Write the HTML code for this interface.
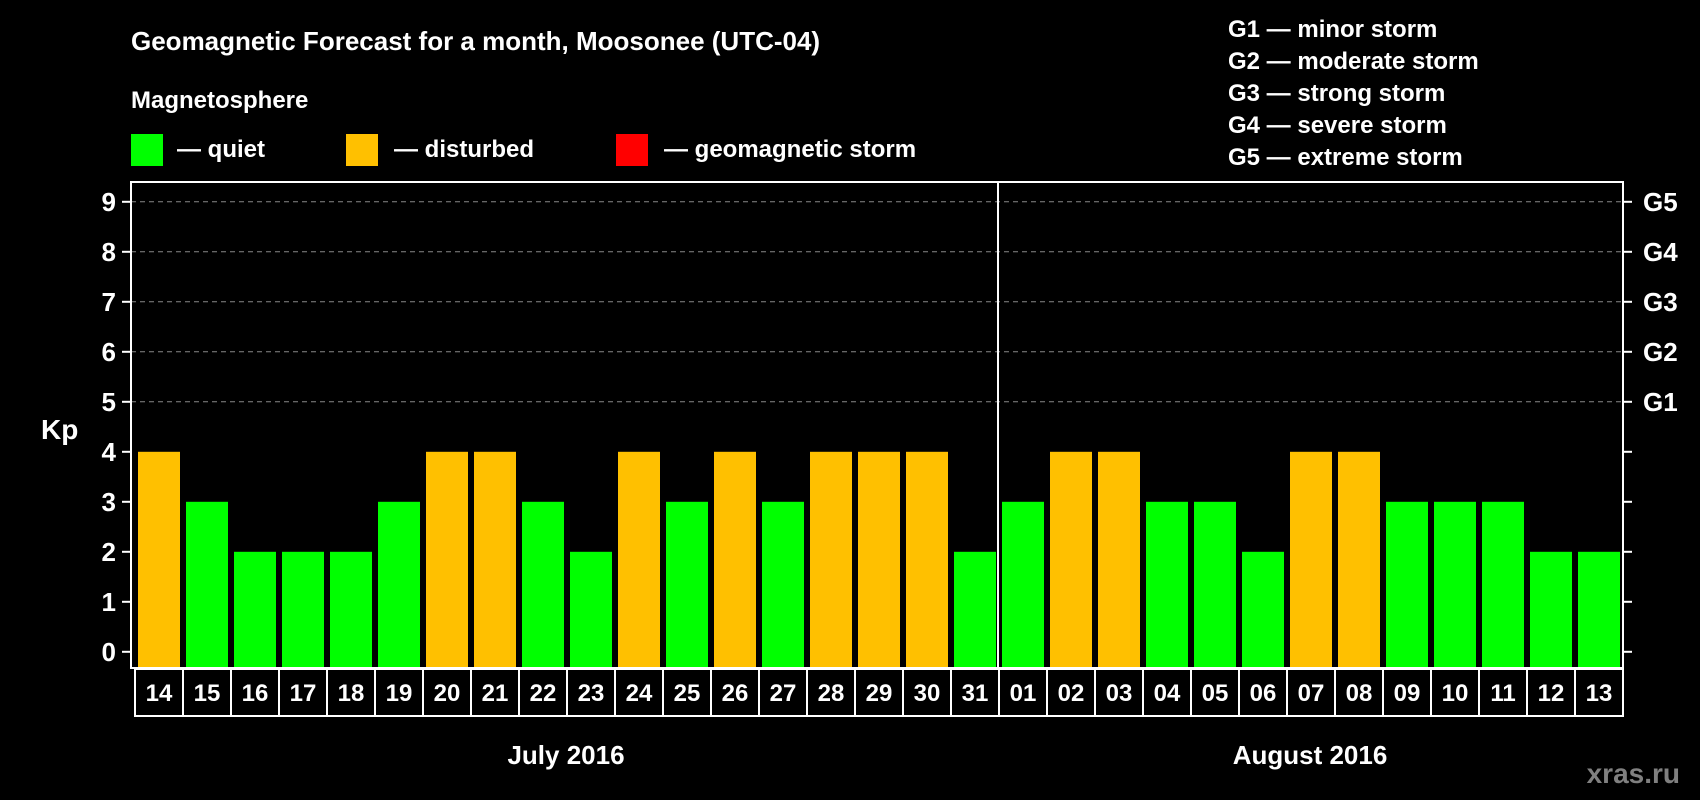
<!DOCTYPE html>
<html><head><meta charset="utf-8"><style>
html,body{margin:0;padding:0;background:#000;}
svg{display:block;font-family:"Liberation Sans",Arial,sans-serif;font-weight:bold;}
</style></head><body>
<svg id="chart" width="1700" height="800" viewBox="0 0 1700 800">
<text x="131" y="50" fill="#fff" font-size="26">Geomagnetic Forecast for a month, Moosonee (UTC-04)</text>
<text x="131" y="108" fill="#fff" font-size="24">Magnetosphere</text>
<rect x="131" y="134" width="32" height="32" fill="#00ff00"/>
<text x="177" y="157" fill="#fff" font-size="24">— quiet</text>
<rect x="346" y="134" width="32" height="32" fill="#ffc000"/>
<text x="394" y="157" fill="#fff" font-size="24">— disturbed</text>
<rect x="616" y="134" width="32" height="32" fill="#ff0000"/>
<text x="664" y="157" fill="#fff" font-size="24">— geomagnetic storm</text>
<g font-size="24" fill="#fff">
<text x="1228" y="37">G1 — minor storm</text>
<text x="1228" y="69">G2 — moderate storm</text>
<text x="1228" y="101">G3 — strong storm</text>
<text x="1228" y="133">G4 — severe storm</text>
<text x="1228" y="165">G5 — extreme storm</text>
</g>
<text x="41" y="439" fill="#fff" font-size="28">Kp</text>
<text x="566" y="764" fill="#fff" font-size="26" text-anchor="middle">July 2016</text>
<text x="1310" y="764" fill="#fff" font-size="26" text-anchor="middle">August 2016</text>
<text x="1680" y="783" fill="#808080" font-size="28" text-anchor="end">xras.ru</text>
<g id="grid"></g><g id="bars"></g><g id="axes"></g><g id="days"></g>
</svg>
<script>
const days = ["14","15","16","17","18","19","20","21","22","23","24","25","26","27","28","29","30","31","01","02","03","04","05","06","07","08","09","10","11","12","13"];
const kpValues = [4,3,2,2,2,3,4,4,3,2,4,3,4,3,4,4,4,2,3,4,4,3,3,2,4,4,3,3,3,2,2];
const yTicks = [0,1,2,3,4,5,6,7,8,9];
const gLabels = ["","","","","","G1","G2","G3","G4","G5"];
const NS="http://www.w3.org/2000/svg";
const L=131,R=1623,T=182,B=668,pitch=48,x0=135;
function yS(v){return 651.8-v*50;}
function xS(i){return x0+pitch*i;}
function mk(tag,attrs,parent){const e=document.createElementNS(NS,tag);for(const k in attrs)e.setAttribute(k,attrs[k]);parent.appendChild(e);return e;}
const grid=document.getElementById('grid'),bars=document.getElementById('bars'),axes=document.getElementById('axes'),dg=document.getElementById('days');
yTicks.forEach((t,i)=>{
 const y=yS(t);
 if(t>=5){const g=mk('line',{x1:L,x2:R,y1:y,y2:y,stroke:'#888','stroke-width':1,'stroke-dasharray':'5,4'},grid);
 
 }
 const tl=mk('line',{x1:L-9,x2:L,y1:y,y2:y,stroke:'#fff','stroke-width':2},axes);
 
 
 const tr=mk('line',{x1:R,x2:R+9,y1:y,y2:y,stroke:'#fff','stroke-width':2},axes);
 
 
 const lb=mk('text',{x:116,y:y+9,fill:'#fff','font-size':26,'text-anchor':'end'},axes);lb.textContent=t;
 
 
 if(gLabels[i]){const g=mk('text',{x:1643,y:y+9,fill:'#fff','font-size':26},axes);g.textContent=gLabels[i];
 
 }
});
kpValues.forEach((v,i)=>{
 const b=mk('rect',{x:xS(i)+3,y:yS(v),width:42,height:B-yS(v),fill:v>=5?'#ff0000':(v>=4?'#ffc000':'#00ff00')},bars);
 
 
 const c=mk('rect',{x:xS(i),y:B+1,width:pitch,height:47,fill:'none',stroke:'#fff','stroke-width':2},dg);
 
 
 const t=mk('text',{x:xS(i)+pitch/2,y:B+33,fill:'#fff','font-size':24,'text-anchor':'middle'},dg);t.textContent=days[i];
 
 
});
const fr=mk('rect',{x:L,y:T,width:R-L,height:B-T,fill:'none',stroke:'#fff','stroke-width':2},axes);


const sep=days.indexOf("01");
const ml=mk('line',{x1:xS(sep)-1,x2:xS(sep)-1,y1:T,y2:B,stroke:'#fff','stroke-width':2},axes);


</script>
</body></html>
